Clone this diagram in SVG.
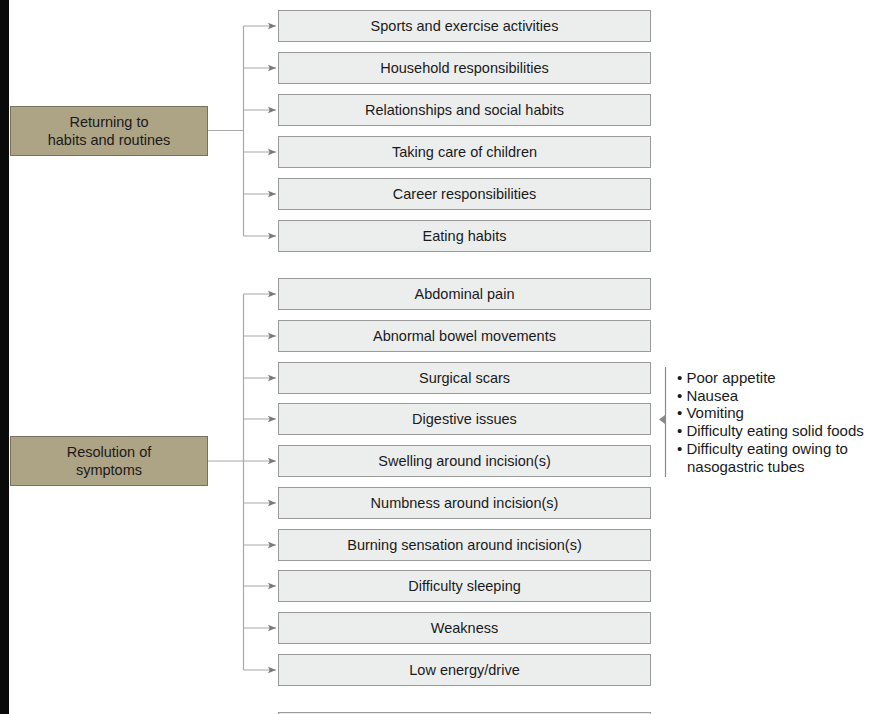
<svg xmlns="http://www.w3.org/2000/svg" width="878" height="714" viewBox="0 0 878 714">
<defs>
<style>
.cat rect{fill:#ada385;stroke:#77705f;stroke-width:1}
.item rect{fill:#eceeee;stroke:#9a9a9a;stroke-width:1}
text{font-family:"Liberation Sans",Arial,sans-serif;font-size:14.5px;fill:#1a1a1a}
.c{text-anchor:middle}
.b{font-size:15px}
.conn path{fill:none;stroke:#a8a8a8;stroke-width:1.2}
</style>
<marker id="ah" viewBox="0 0 10 10" refX="10" refY="5" markerWidth="8" markerHeight="8" markerUnits="userSpaceOnUse" orient="auto">
<path d="M0,1 L10,5 L0,9 L2,5 Z" fill="#7a7a7a"/>
</marker>
</defs>
<rect x="0" y="0" width="878" height="714" fill="#ffffff"/>
<rect x="0" y="0" width="9" height="714" fill="#0a0a0a"/>

<g class="conn">
<path d="M207,130.5 H243.5"/>
<path d="M243.5,26 V236"/>
<path d="M243.5,26 H276" marker-end="url(#ah)"/>
<path d="M243.5,68 H276" marker-end="url(#ah)"/>
<path d="M243.5,110 H276" marker-end="url(#ah)"/>
<path d="M243.5,152 H276" marker-end="url(#ah)"/>
<path d="M243.5,194 H276" marker-end="url(#ah)"/>
<path d="M243.5,236 H276" marker-end="url(#ah)"/>
<path d="M243.5,294 V670"/>
<path d="M207,461 H276" marker-end="url(#ah)"/>
<path d="M243.5,294 H276" marker-end="url(#ah)"/>
<path d="M243.5,336 H276" marker-end="url(#ah)"/>
<path d="M243.5,378 H276" marker-end="url(#ah)"/>
<path d="M243.5,419 H276" marker-end="url(#ah)"/>
<path d="M243.5,503 H276" marker-end="url(#ah)"/>
<path d="M243.5,545 H276" marker-end="url(#ah)"/>
<path d="M243.5,586 H276" marker-end="url(#ah)"/>
<path d="M243.5,628 H276" marker-end="url(#ah)"/>
<path d="M243.5,670 H276" marker-end="url(#ah)"/>
<path d="M665.5,367 V477" style="stroke:#8a8a8a"/>
<path d="M665,415 L659,419.5 L665,424 Z" style="fill:#8a8a8a;stroke:none"/>
</g>

<g id="cat1" class="cat"><rect x="10.5" y="106.5" width="197" height="49"/><text class="c" x="109" y="127">Returning to</text><text class="c" x="109" y="145">habits and routines</text></g>
<g id="cat2" class="cat"><rect x="10.5" y="436.5" width="197" height="49"/><text class="c" x="109" y="457">Resolution of</text><text class="c" x="109" y="475">symptoms</text></g>

<g id="n1" class="item"><rect x="278.5" y="10.5" width="372" height="31"/><text class="c" x="464.5" y="31">Sports and exercise activities</text></g>
<g id="n2" class="item"><rect x="278.5" y="52.5" width="372" height="31"/><text class="c" x="464.5" y="73">Household responsibilities</text></g>
<g id="n3" class="item"><rect x="278.5" y="94.5" width="372" height="31"/><text class="c" x="464.5" y="115">Relationships and social habits</text></g>
<g id="n4" class="item"><rect x="278.5" y="136.5" width="372" height="31"/><text class="c" x="464.5" y="157">Taking care of children</text></g>
<g id="n5" class="item"><rect x="278.5" y="178.5" width="372" height="31"/><text class="c" x="464.5" y="199">Career responsibilities</text></g>
<g id="n6" class="item"><rect x="278.5" y="220.5" width="372" height="31"/><text class="c" x="464.5" y="241">Eating habits</text></g>

<g id="s1" class="item"><rect x="278.5" y="278.5" width="372" height="31"/><text class="c" x="464.5" y="299">Abdominal pain</text></g>
<g id="s2" class="item"><rect x="278.5" y="320.5" width="372" height="31"/><text class="c" x="464.5" y="341">Abnormal bowel movements</text></g>
<g id="s3" class="item"><rect x="278.5" y="362.5" width="372" height="31"/><text class="c" x="464.5" y="383">Surgical scars</text></g>
<g id="s4" class="item"><rect x="278.5" y="403.5" width="372" height="31"/><text class="c" x="464.5" y="424">Digestive issues</text></g>
<g id="s5" class="item"><rect x="278.5" y="445.5" width="372" height="31"/><text class="c" x="464.5" y="466">Swelling around incision(s)</text></g>
<g id="s6" class="item"><rect x="278.5" y="487.5" width="372" height="31"/><text class="c" x="464.5" y="508">Numbness around incision(s)</text></g>
<g id="s7" class="item"><rect x="278.5" y="529.5" width="372" height="31"/><text class="c" x="464.5" y="550">Burning sensation around incision(s)</text></g>
<g id="s8" class="item"><rect x="278.5" y="570.5" width="372" height="31"/><text class="c" x="464.5" y="591">Difficulty sleeping</text></g>
<g id="s9" class="item"><rect x="278.5" y="612.5" width="372" height="31"/><text class="c" x="464.5" y="633">Weakness</text></g>
<g id="s10" class="item"><rect x="278.5" y="654.5" width="372" height="31"/><text class="c" x="464.5" y="675">Low energy/drive</text></g>
<g id="s11" class="item"><rect x="278.5" y="712.5" width="372" height="31"/></g>

<g id="digestive-details" class="b">
<text class="b" x="677" y="383">• Poor appetite</text>
<text class="b" x="677" y="400.5">• Nausea</text>
<text class="b" x="677" y="418">• Vomiting</text>
<text class="b" x="677" y="436">• Difficulty eating solid foods</text>
<text class="b" x="677" y="454">• Difficulty eating owing to</text>
<text class="b" x="687" y="471.5">nasogastric tubes</text>
</g>
</svg>
